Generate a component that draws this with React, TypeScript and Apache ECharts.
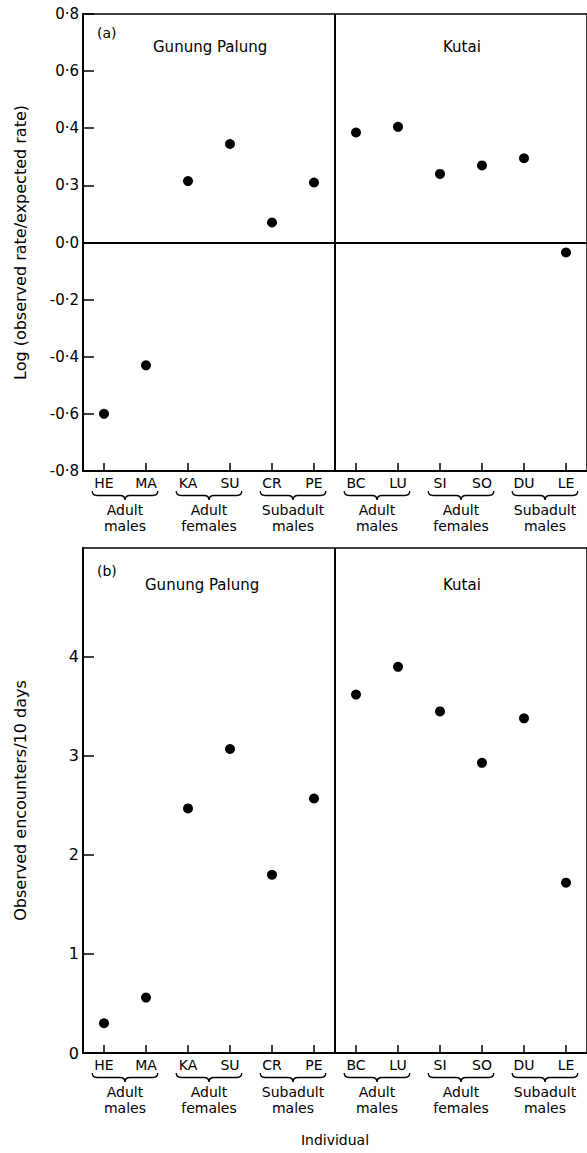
import { useEffect, useRef } from "react";
import * as echarts from "echarts";

const individuals = ["HE", "MA", "KA", "SU", "CR", "PE", "BC", "LU", "SI", "SO", "DU", "LE"];
const positions = [1, 2, 3, 4, 5, 6, 7, 8, 9, 10, 11, 12];
const groupCenters = [1.5, 3.5, 5.5, 7.5, 9.5, 11.5];
const groupLabels = [
  "Adult\nmales",
  "Adult\nfemales",
  "Subadult\nmales",
  "Adult\nmales",
  "Adult\nfemales",
  "Subadult\nmales",
];
const siteNames = ["Gunung Palung", "Kutai"];
const siteDivider = 6.5;

// Panel (a): log(observed rate / expected rate)
const logRatio = [-0.6, -0.43, 0.215, 0.345, 0.07, 0.21, 0.385, 0.405, 0.24, 0.27, 0.295, -0.035];
const yTicksA = ["-0·8", "-0·6", "-0·4", "-0·2", "0·0", "0·3", "0·4", "0·6", "0·8"];

// Panel (b): observed encounters / 10 days
const encounters = [0.3, 0.56, 2.47, 3.07, 1.8, 2.57, 3.62, 3.9, 3.45, 2.93, 3.38, 1.72];
const yTicksB = ["0", "1", "2", "3", "4"];
const yTickValuesB = [0, 1, 2, 3, 4];

const FONT = "DejaVu Sans";

function braceSeries(gridIdx: number, yMin: number) {
  return {
    type: "custom",
    xAxisIndex: gridIdx,
    yAxisIndex: gridIdx,
    clip: false,
    silent: true,
    data: groupCenters.map((c) => [c, yMin]),
    renderItem: (params: any, api: any) => {
      const x = api.value(0);
      const y = api.value(1);
      const l = api.coord([x - 0.78, y]);
      const r = api.coord([x + 0.78, y]);
      const xl = l[0];
      const xr = r[0];
      const cx = (xl + xr) / 2;
      const y0 = l[1] + 20;
      const h = 9;
      const m = y0 + h / 2;
      const d = `M${xl} ${y0} Q${xl} ${m} ${xl + 5} ${m} L${cx - 5} ${m} Q${cx} ${m} ${cx} ${y0 + h} Q${cx} ${m} ${cx + 5} ${m} L${xr - 5} ${m} Q${xr} ${m} ${xr} ${y0}`;
      return {
        type: "group",
        children: [
          {
            type: "path",
            shape: { pathData: d },
            style: { stroke: "#000", lineWidth: 1.4, fill: "none" },
          },
          {
            type: "text",
            style: {
              text: groupLabels[params.dataIndex],
              x: cx,
              y: y0 + h + 2,
              align: "center",
              verticalAlign: "top",
              fontSize: 14,
              fontFamily: FONT,
              lineHeight: 16,
              fill: "#000",
            },
          },
        ],
      };
    },
  };
}

export default function App() {
  const ref = useRef<HTMLDivElement>(null);

  useEffect(() => {
    document.body.style.margin = "0";
    if (!ref.current) return;
    const chart = echarts.init(ref.current, undefined, { renderer: "svg" });

    const xAxisBase = (gridIndex: number) => ({
      type: "value",
      gridIndex,
      min: 0.5,
      max: 12.5,
      axisLine: { show: true, onZero: false, lineStyle: { color: "#000", width: 2 } },
      axisTick: { show: true, inside: true, length: 8, customValues: positions, lineStyle: { color: "#000", width: 1.5 } },
      axisLabel: {
        show: true,
        customValues: positions,
        formatter: (v: number) => individuals[Math.round(v) - 1] ?? "",
        margin: 5,
        fontSize: 14,
        fontFamily: FONT,
        color: "#000",
      },
      splitLine: { show: false },
    });

    const nameStyle = { fontSize: 16, fontFamily: FONT, color: "#000" };

    const option: any = {
      animation: false,
      backgroundColor: "#fff",
      grid: [
        { left: 83, top: 14, width: 509, height: 457, show: true, borderColor: "#000", borderWidth: 1.5 },
        { left: 83, top: 548, width: 509, height: 505, show: true, borderColor: "#000", borderWidth: 1.5 },
      ],
      xAxis: [
        xAxisBase(0),
        {
          ...xAxisBase(1),
          name: "Individual",
          nameLocation: "middle",
          nameGap: 80,
          nameTextStyle: { fontSize: 14, fontFamily: FONT, color: "#000" },
        },
      ],
      yAxis: [
        {
          type: "value",
          gridIndex: 0,
          min: -0.8,
          max: 0.8,
          interval: 0.2,
          name: "Log (observed rate/expected rate)",
          nameLocation: "middle",
          nameGap: 55,
          nameTextStyle: nameStyle,
          axisLine: { show: true, lineStyle: { color: "#000", width: 2 } },
          axisTick: { show: true, inside: true, length: 11, lineStyle: { color: "#000", width: 1.5 } },
          axisLabel: {
            formatter: (v: number) => yTicksA[Math.round((v + 0.8) / 0.2)] ?? "",
            margin: 4,
            fontSize: 15,
            fontFamily: FONT,
            color: "#000",
          },
          splitLine: { show: false },
        },
        {
          type: "value",
          gridIndex: 1,
          min: 0,
          max: 5.1,
          name: "Observed encounters/10 days",
          nameLocation: "middle",
          nameGap: 55,
          nameTextStyle: nameStyle,
          axisLine: { show: true, lineStyle: { color: "#000", width: 2 } },
          axisTick: { show: true, inside: true, length: 11, customValues: yTickValuesB, lineStyle: { color: "#000", width: 1.5 } },
          axisLabel: {
            customValues: yTickValuesB,
            formatter: (v: number) => yTicksB[Math.round(v)] ?? "",
            margin: 4,
            fontSize: 16,
            fontFamily: FONT,
            color: "#000",
          },
          splitLine: { show: false },
        },
      ],
      series: [
        {
          type: "scatter",
          xAxisIndex: 0,
          yAxisIndex: 0,
          symbol: "circle",
          symbolSize: 10,
          itemStyle: { color: "#000", opacity: 1 },
          data: positions.map((p, i) => [p, logRatio[i]]),
          markLine: {
            silent: true,
            symbol: "none",
            label: { show: false },
            lineStyle: { color: "#000", type: "solid", width: 2 },
            data: [{ xAxis: siteDivider }, { yAxis: 0 }],
          },
        },
        {
          type: "scatter",
          xAxisIndex: 1,
          yAxisIndex: 1,
          symbol: "circle",
          symbolSize: 10,
          itemStyle: { color: "#000", opacity: 1 },
          data: positions.map((p, i) => [p, encounters[i]]),
          markLine: {
            silent: true,
            symbol: "none",
            label: { show: false },
            lineStyle: { color: "#000", type: "solid", width: 2 },
            data: [{ xAxis: siteDivider }],
          },
        },
        braceSeries(0, -0.8),
        braceSeries(1, 0),
      ],
      graphic: [
        { type: "text", left: 97, top: 26, style: { text: "(a)", fontSize: 14, fontFamily: FONT, fill: "#000" } },
        { type: "text", left: 153, top: 39, style: { text: siteNames[0], fontSize: 15, fontFamily: FONT, fill: "#000" } },
        { type: "text", left: 443, top: 39, style: { text: siteNames[1], fontSize: 15, fontFamily: FONT, fill: "#000" } },
        { type: "text", left: 97, top: 564, style: { text: "(b)", fontSize: 14, fontFamily: FONT, fill: "#000" } },
        { type: "text", left: 145, top: 577, style: { text: siteNames[0], fontSize: 15, fontFamily: FONT, fill: "#000" } },
        { type: "text", left: 443, top: 577, style: { text: siteNames[1], fontSize: 15, fontFamily: FONT, fill: "#000" } },
      ],
    };

    chart.setOption(option);
    return () => chart.dispose();
  }, []);

  return <div ref={ref} style={{ width: 587, height: 1153 }} />;
}
